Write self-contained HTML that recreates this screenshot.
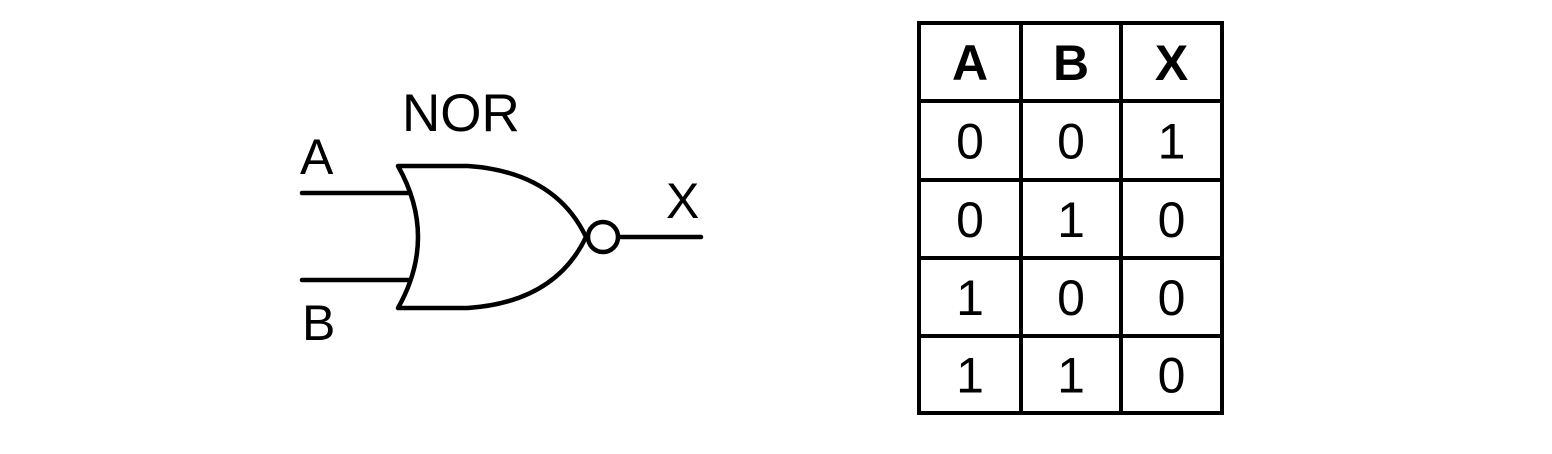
<!DOCTYPE html>
<html><head><meta charset="utf-8"><style>
html,body{margin:0;padding:0;background:#fff;}
svg{display:block;font-family:"Liberation Sans",Arial,sans-serif;}
</style></head><body>
<svg width="1552" height="454" viewBox="0 0 1552 454">
<g fill="none" stroke="#000" stroke-width="4.5" stroke-linecap="round" stroke-linejoin="round">
  <line x1="302" y1="193" x2="410" y2="193"/>
  <line x1="302" y1="280" x2="410" y2="280"/>
  <path d="M398,166 L468,166 Q555,172 586,237 Q555,302 468,308 L398,308 Q438,237 398,166 Z"/>
  <circle cx="603" cy="237" r="15"/>
  <line x1="620" y1="237" x2="701" y2="237"/>
</g>
<text x="402" y="131" font-size="53">NOR</text>
<text x="300" y="174" font-size="50">A</text>
<text x="302" y="340" font-size="50">B</text>
<text x="666" y="218" font-size="50">X</text>
<g id="table"></g>
</svg>
<script>
const headers = ["A","B","X"];
const colA = [0,0,1,1];
const colB = [0,1,0,1];
const colX = [1,0,0,0];
const svgNS="http://www.w3.org/2000/svg";
const g=document.getElementById('table');
const xs=[919,1021,1121,1222];
const ys=[23,101,180,258,336,413];
function mk(t,a){const e=document.createElementNS(svgNS,t);for(const k in a)e.setAttribute(k,a[k]);g.appendChild(e);return e;}
xs.forEach((x,i)=>{const l=mk('line',{x1:x,y1:ys[0]-2,x2:x,y2:ys[5]+2,stroke:'#000','stroke-width':4});

});
ys.forEach((y,i)=>{const l=mk('line',{x1:xs[0]-2,y1:y,x2:xs[3]+2,y2:y,stroke:'#000','stroke-width':4});

});
const rows=[headers];
for(let i=0;i<colA.length;i++)rows.push([colA[i],colB[i],colX[i]]);
rows.forEach((r,ri)=>{r.forEach((v,ci)=>{
 const cx=(xs[ci]+xs[ci+1])/2, cy=(ys[ri]+ys[ri+1])/2;
 const t=mk('text',{x:cx,y:cy+18,'text-anchor':'middle','font-size':50,'font-weight':ri===0?'bold':'normal'});
 t.textContent=String(v);
 
 
});});
</script>
</body></html>
